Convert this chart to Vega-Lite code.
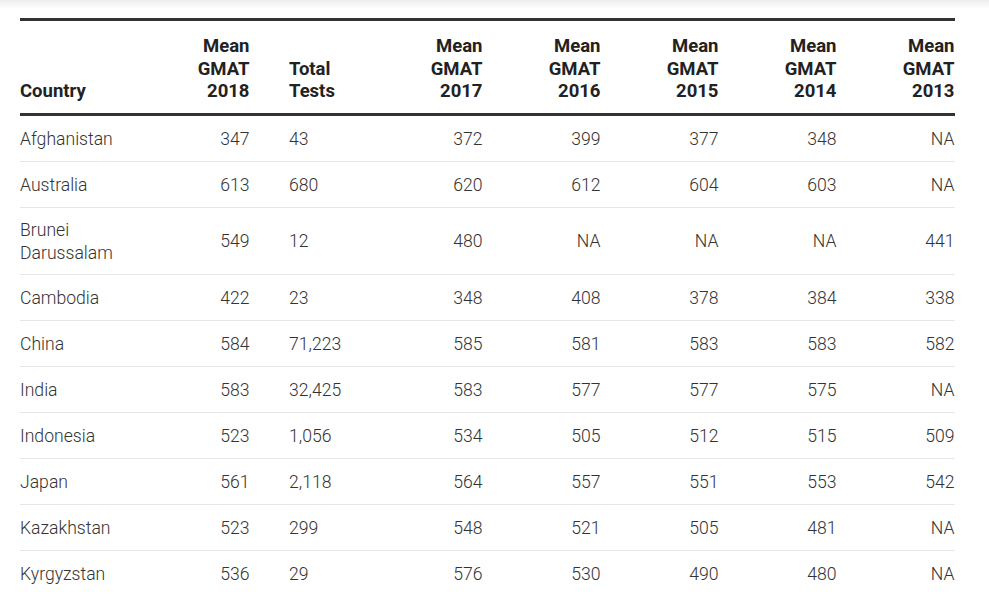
{
  "$schema": "https://vega.github.io/schema/vega-lite/v6.json",
  "width": 989,
  "height": 595,
  "autosize": {"type": "fit", "contains": "padding"},
  "padding": 0,
  "background": "white",
  "config": {"view": {"stroke": null}, "text": {"font": "Roboto"}},
  "datasets": {
    "table": [
      {"Country": "Afghanistan", "Mean GMAT 2018": 347, "Total Tests": 43, "Mean GMAT 2017": 372, "Mean GMAT 2016": 399, "Mean GMAT 2015": 377, "Mean GMAT 2014": 348, "Mean GMAT 2013": null},
      {"Country": "Australia", "Mean GMAT 2018": 613, "Total Tests": 680, "Mean GMAT 2017": 620, "Mean GMAT 2016": 612, "Mean GMAT 2015": 604, "Mean GMAT 2014": 603, "Mean GMAT 2013": null},
      {"Country": "Brunei Darussalam", "Mean GMAT 2018": 549, "Total Tests": 12, "Mean GMAT 2017": 480, "Mean GMAT 2016": null, "Mean GMAT 2015": null, "Mean GMAT 2014": null, "Mean GMAT 2013": 441},
      {"Country": "Cambodia", "Mean GMAT 2018": 422, "Total Tests": 23, "Mean GMAT 2017": 348, "Mean GMAT 2016": 408, "Mean GMAT 2015": 378, "Mean GMAT 2014": 384, "Mean GMAT 2013": 338},
      {"Country": "China", "Mean GMAT 2018": 584, "Total Tests": 71223, "Mean GMAT 2017": 585, "Mean GMAT 2016": 581, "Mean GMAT 2015": 583, "Mean GMAT 2014": 583, "Mean GMAT 2013": 582},
      {"Country": "India", "Mean GMAT 2018": 583, "Total Tests": 32425, "Mean GMAT 2017": 583, "Mean GMAT 2016": 577, "Mean GMAT 2015": 577, "Mean GMAT 2014": 575, "Mean GMAT 2013": null},
      {"Country": "Indonesia", "Mean GMAT 2018": 523, "Total Tests": 1056, "Mean GMAT 2017": 534, "Mean GMAT 2016": 505, "Mean GMAT 2015": 512, "Mean GMAT 2014": 515, "Mean GMAT 2013": 509},
      {"Country": "Japan", "Mean GMAT 2018": 561, "Total Tests": 2118, "Mean GMAT 2017": 564, "Mean GMAT 2016": 557, "Mean GMAT 2015": 551, "Mean GMAT 2014": 553, "Mean GMAT 2013": 542},
      {"Country": "Kazakhstan", "Mean GMAT 2018": 523, "Total Tests": 299, "Mean GMAT 2017": 548, "Mean GMAT 2016": 521, "Mean GMAT 2015": 505, "Mean GMAT 2014": 481, "Mean GMAT 2013": null},
      {"Country": "Kyrgyzstan", "Mean GMAT 2018": 536, "Total Tests": 29, "Mean GMAT 2017": 576, "Mean GMAT 2016": 530, "Mean GMAT 2015": 490, "Mean GMAT 2014": 480, "Mean GMAT 2013": null}
    ],
    "columns": [
      {"column": "Country"},
      {"column": "Mean GMAT 2018"},
      {"column": "Total Tests"},
      {"column": "Mean GMAT 2017"},
      {"column": "Mean GMAT 2016"},
      {"column": "Mean GMAT 2015"},
      {"column": "Mean GMAT 2014"},
      {"column": "Mean GMAT 2013"}
    ]
  },
  "resolve": {"scale": {"y": "independent"}},
  "layer": [
    {
      "data": {"name": "table"},
      "transform": [{"window": [{"op": "row_number", "as": "row"}]}],
      "mark": {"type": "rule", "color": "#e6e6e6", "strokeWidth": 1},
      "encoding": {
        "x": {"datum": 1, "type": "quantitative", "axis": null,
              "scale": {"type": "linear", "domain": [0, 1, 2, 3, 4, 5, 6, 7, 8, 9], "range": [0, 20, 249.5, 289, 482.5, 600.5, 718.5, 836.5, 954.5, 989], "zero": false, "nice": false}},
        "x2": {"datum": 8},
        "y": {"field": "row", "type": "quantitative", "axis": null,
              "scale": {"type": "linear", "domain": [1, 2, 3, 4, 5, 6, 7, 8, 9, 10], "range": [161.5, 207.5, 274.5, 320.5, 366.5, 412.5, 458.5, 504.5, 550.5, 596.5], "zero": false, "nice": false}}
      }
    },
    {
      "layer": [
        {
          "data": {"name": "columns"},
          "mark": {"type": "rect", "fill": {"gradient": "linear", "x1": 0, "y1": 0, "x2": 0, "y2": 1, "stops": [{"offset": 0, "color": "#ededed"}, {"offset": 1, "color": "#ffffff"}]}},
          "encoding": {
            "x": {"datum": 0, "type": "quantitative", "axis": null,
                  "scale": {"type": "linear", "domain": [0, 1, 2, 3, 4, 5, 6, 7, 8, 9], "range": [0, 20, 249.5, 289, 482.5, 600.5, 718.5, 836.5, 954.5, 989], "zero": false, "nice": false}},
            "x2": {"datum": 9},
            "y": {"datum": -4, "type": "quantitative", "axis": null,
                  "scale": {"type": "linear", "domain": [-4, -3, -2, -1, 0, 1, 2, 3, 4, 5, 6, 7, 8, 9, 10], "range": [0, 9, 19.5, 97, 114.5, 140.3, 186.3, 242, 299, 345, 391, 437, 483, 529, 575], "zero": false, "nice": false}},
            "y2": {"datum": -3}
          }
        },
        {
          "data": {"name": "columns"},
          "mark": {"type": "rule", "color": "#333333", "strokeWidth": 3},
          "encoding": {
            "x": {"datum": 1, "type": "quantitative"},
            "x2": {"datum": 8},
            "y": {"datum": -2, "type": "quantitative"}
          }
        },
        {
          "data": {"name": "columns"},
          "mark": {"type": "rule", "color": "#333333", "strokeWidth": 3},
          "encoding": {
            "x": {"datum": 1, "type": "quantitative"},
            "x2": {"datum": 8},
            "y": {"datum": 0, "type": "quantitative"}
          }
        },
        {
          "data": {"name": "columns"},
          "transform": [{"window": [{"op": "row_number", "as": "col"}]}],
          "mark": {"type": "text", "fontSize": 18.5, "fontWeight": "bold", "color": "#222222", "baseline": "alphabetic", "lineBreak": " ", "lineHeight": 22.5,
                   "align": {"expr": "datum.column === 'Country' || datum.column === 'Total Tests' ? 'left' : 'right'"},
                   "dy": {"expr": "-(split(datum.column, ' ').length - 1) * 22.5"}},
          "encoding": {
            "x": {"field": "col", "type": "quantitative"},
            "y": {"datum": -1, "type": "quantitative"},
            "text": {"field": "column"}
          }
        },
        {
          "data": {"name": "table"},
          "transform": [
            {"window": [{"op": "row_number", "as": "row"}]},
            {"fold": ["Country", "Mean GMAT 2018", "Total Tests", "Mean GMAT 2017", "Mean GMAT 2016", "Mean GMAT 2015", "Mean GMAT 2014", "Mean GMAT 2013"], "as": ["key", "value"]},
            {"window": [{"op": "row_number", "as": "col"}], "groupby": ["row"]},
            {"calculate": "datum.value === null ? 'NA' : isNumber(datum.value) ? format(datum.value, ',') : datum.value", "as": "label"}
          ],
          "mark": {"type": "text", "fontSize": 17.6, "fontWeight": 300, "color": "#333333", "baseline": "middle", "lineBreak": " ", "lineHeight": 23,
                   "align": {"expr": "datum.key === 'Country' || datum.key === 'Total Tests' ? 'left' : 'right'"},
                   "dy": {"expr": "-(split(datum.label, ' ').length - 1) * 11.5"}},
          "encoding": {
            "x": {"field": "col", "type": "quantitative"},
            "y": {"field": "row", "type": "quantitative"},
            "text": {"field": "label"}
          }
        }
      ]
    }
  ]
}
